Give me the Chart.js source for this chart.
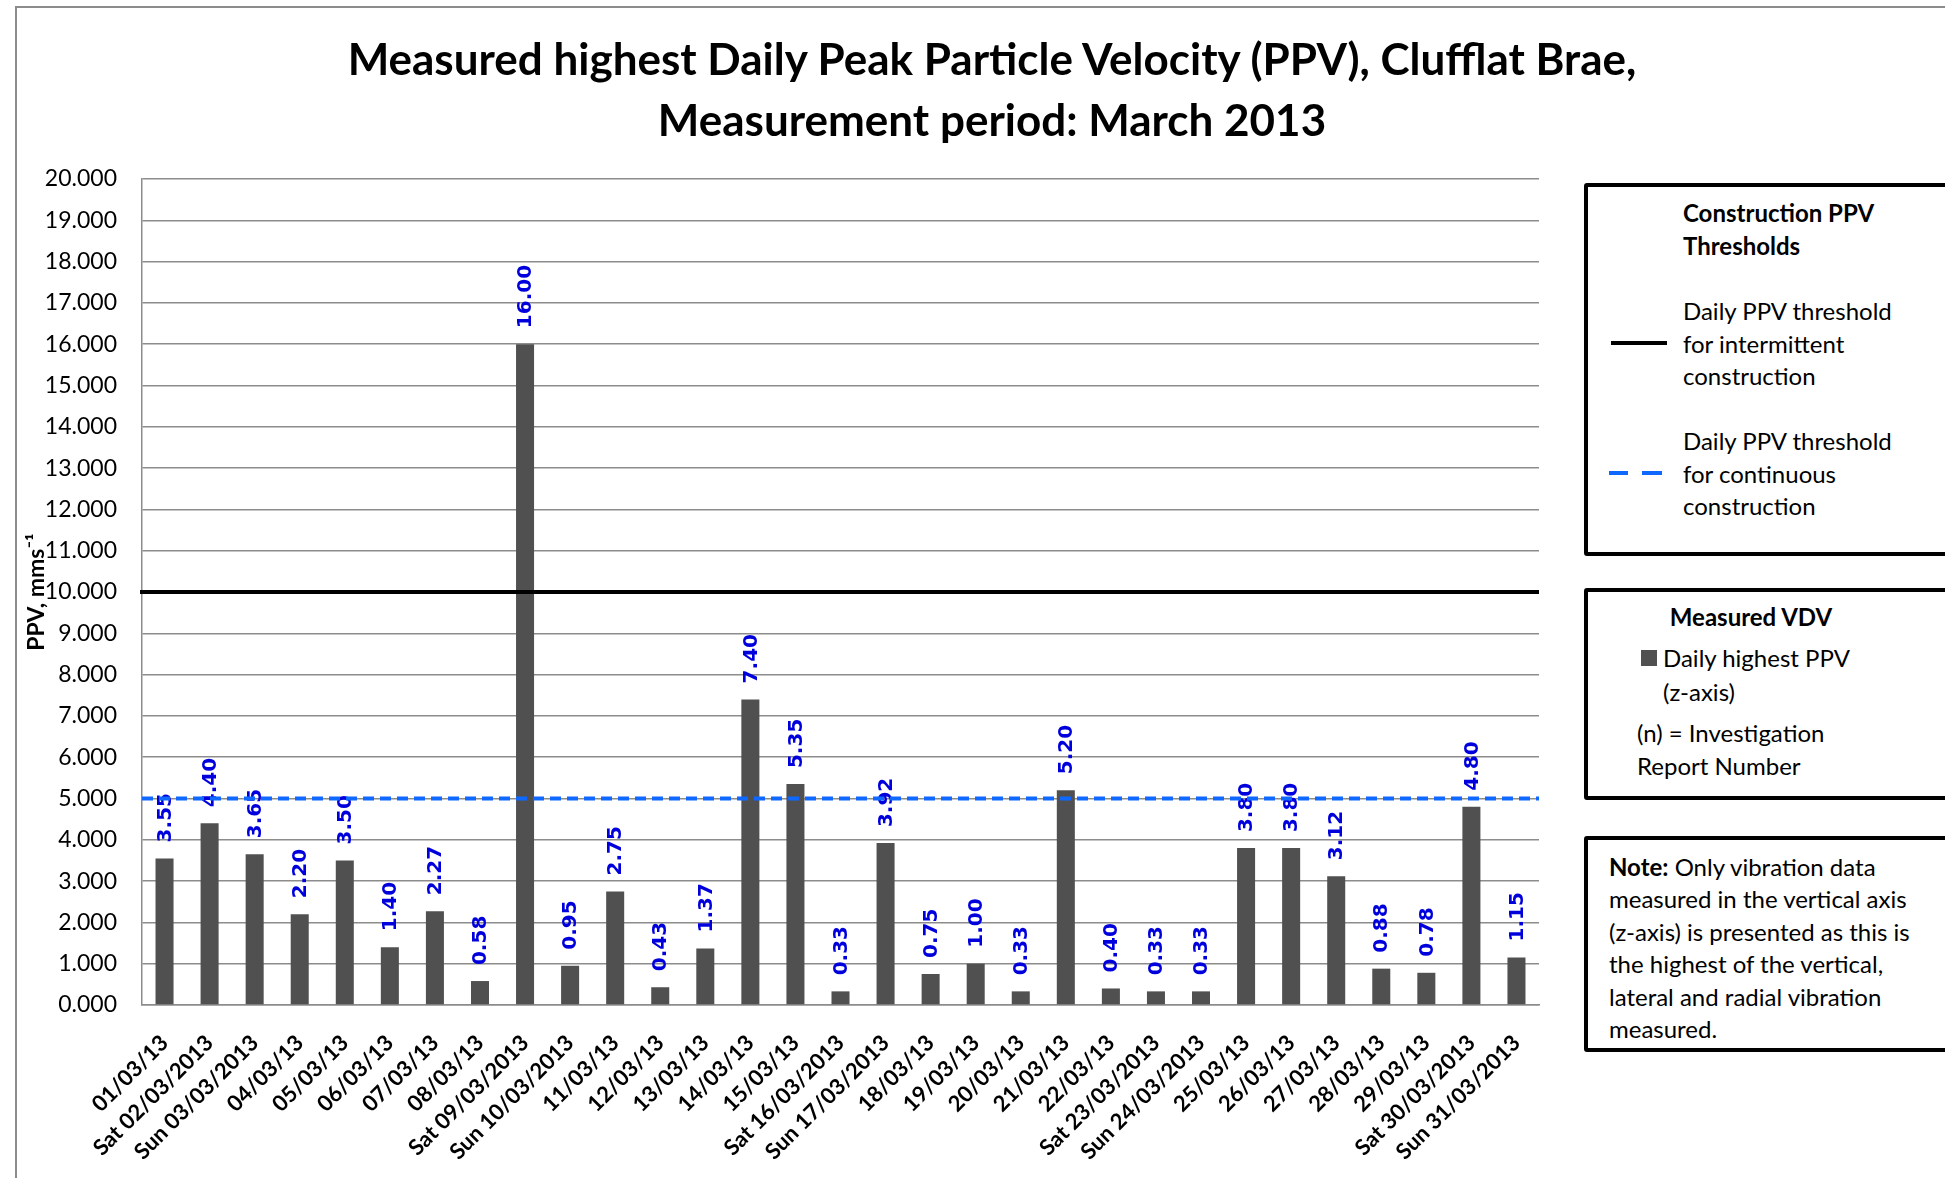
<!DOCTYPE html>
<html lang="en">
<head>
    <meta charset="UTF-8">
    <title>Measured highest Daily PPV, Clufflat Brae, March 2013</title>
    <script src="https://cdn.jsdelivr.net/npm/chart.js@4.4.0/dist/chart.umd.min.js"></script>
    <style>
        body {
            margin: 0;
            width: 1945px;
            height: 1178px;
            overflow: hidden;
            position: relative;
            background: #fff;
            font-family: Lato, 'Open Sans', sans-serif;
            color: #000;
        }
        .frame {
            position: absolute;
            left: 15px;
            top: 6px;
            width: 2100px;
            height: 1300px;
            border-left: 2px solid #8c8c8c;
            border-top: 2px solid #8c8c8c;
        }
        .chart-wrap {
            position: absolute;
            left: 0;
            top: 0;
            width: 1945px;
            height: 1178px;
        }
        .title {
            position: absolute;
            left: 0;
            width: 1984px;
            top: 28px;
            text-align: center;
            font-weight: bold;
            font-size: 44px;
            line-height: 61px;
        }
        .box {
            position: absolute;
            left: 1584px;
            width: 420px;
            border: 4px solid #000;
            border-radius: 3px;
            background: #fff;
        }
        .txt {
            position: absolute;
            font-size: 24px;
            line-height: 32.5px;
            white-space: nowrap;
        }
        .sym { position: absolute; }
    </style>
</head>
<body>
    <div class="frame"></div>
    <div class="chart-wrap"><canvas id="ppvChart"></canvas></div>

    <div class="title">Measured highest Daily Peak Particle Velocity (PPV), Clufflat Brae,<br>Measurement period: March 2013</div>

    <!-- legend box: thresholds -->
    <div class="box" style="top:183px; height:365px;"></div>
    <div class="txt" style="left:1683px; top:197px; font-weight:bold;">Construction PPV<br>Thresholds</div>
    <div class="sym" style="left:1611px; top:341px; width:56px; height:4px; background:#000;"></div>
    <div class="txt" style="left:1683px; top:295px;">Daily PPV threshold<br>for intermittent<br>construction</div>
    <div class="sym" style="left:1609px; top:471px; width:19px; height:4px; background:#0f68ff;"></div>
    <div class="sym" style="left:1642px; top:471px; width:20px; height:4px; background:#0f68ff;"></div>
    <div class="txt" style="left:1683px; top:425px;">Daily PPV threshold<br>for continuous<br>construction</div>

    <!-- legend box: measured -->
    <div class="box" style="top:588px; height:204px;"></div>
    <div class="txt" style="left:1601px; width:300px; text-align:center; top:601px; font-weight:bold;">Measured VDV</div>
    <div class="sym" style="left:1641px; top:650px; width:16px; height:16px; background:#505050;"></div>
    <div class="txt" style="left:1663px; top:641px; line-height:34px;">Daily highest PPV<br>(z-axis)</div>
    <div class="txt" style="left:1637px; top:717px;">(n) = Investigation<br>Report Number</div>

    <!-- note box -->
    <div class="box" style="top:836px; height:208px;"></div>
    <div class="txt" style="left:1609px; top:851px; line-height:32.4px;"><b>Note:</b> Only vibration data<br>measured in the vertical axis<br>(z-axis) is presented as this is<br>the highest of the vertical,<br>lateral and radial vibration<br>measured.</div>

    <script>
        // daily highest PPV (z-axis), March 2013
        const dayLabels = ['01/03/13', 'Sat 02/03/2013', 'Sun 03/03/2013', '04/03/13', '05/03/13', '06/03/13', '07/03/13', '08/03/13',
            'Sat 09/03/2013', 'Sun 10/03/2013', '11/03/13', '12/03/13', '13/03/13', '14/03/13', '15/03/13', 'Sat 16/03/2013',
            'Sun 17/03/2013', '18/03/13', '19/03/13', '20/03/13', '21/03/13', '22/03/13', 'Sat 23/03/2013', 'Sun 24/03/2013',
            '25/03/13', '26/03/13', '27/03/13', '28/03/13', '29/03/13', 'Sat 30/03/2013', 'Sun 31/03/2013'];
        const peakPPV = [3.55, 4.40, 3.65, 2.20, 3.50, 1.40, 2.27, 0.58, 16.00, 0.95, 2.75, 0.43, 1.37, 7.40, 5.35, 0.33,
            3.92, 0.75, 1.00, 0.33, 5.20, 0.40, 0.33, 0.33, 3.80, 3.80, 3.12, 0.88, 0.78, 4.80, 1.15];

        const yMin = 0;
        const yMax = 20;
        const yStep = 1;

        const intermittentLimit = 10;
        const continuousLimit = 5;

        const gridGrey = '#8c8c8c';

        // values written above each bar, rotated
        const barValueLabels = {
            id: 'barValueLabels',
            afterDatasetsDraw(chart) {
                const ctx = chart.ctx;
                const meta = chart.getDatasetMeta(0);
                ctx.save();
                ctx.font = 'bold 20px "DejaVu Sans"';
                ctx.fillStyle = '#0000dd';
                ctx.textAlign = 'left';
                ctx.textBaseline = 'middle';
                meta.data.forEach((bar, i) => {
                    ctx.save();
                    ctx.translate(bar.x, bar.y - 16);
                    ctx.rotate(-Math.PI / 2);
                    ctx.fillText(peakPPV[i].toFixed(2), 0, 1);
                    ctx.restore();
                });
                ctx.restore();
            }
        };

        // threshold lines across the plot
        const thresholdLines = {
            id: 'thresholdLines',
            afterDatasetsDraw(chart) {
                const ctx = chart.ctx;
                const area = chart.chartArea;
                const y = chart.scales.y;
                ctx.save();
                ctx.lineWidth = 4;

                ctx.strokeStyle = '#000';
                ctx.beginPath();
                ctx.moveTo(area.left - 2, y.getPixelForValue(intermittentLimit));
                ctx.lineTo(area.right, y.getPixelForValue(intermittentLimit));
                ctx.stroke();

                ctx.strokeStyle = '#0f68ff';
                ctx.setLineDash([11, 6]);
                ctx.beginPath();
                ctx.moveTo(area.left, y.getPixelForValue(continuousLimit));
                ctx.lineTo(area.right, y.getPixelForValue(continuousLimit));
                ctx.stroke();
                ctx.restore();
            }
        };

        Chart.defaults.font.family = "Lato, 'Open Sans', sans-serif";
        Chart.defaults.color = '#000';

        const ctx = document.getElementById('ppvChart').getContext('2d');
        const chart = new Chart(ctx, {
            type: 'bar',
            data: {
                labels: dayLabels,
                datasets: [{
                    label: 'Daily highest PPV (z-axis)',
                    data: peakPPV,
                    backgroundColor: '#505050',
                    barPercentage: 0.4,
                    categoryPercentage: 1.0
                }]
            },
            options: {
                responsive: true,
                maintainAspectRatio: false,
                animation: false,
                layout: {
                    padding: { left: 16, top: 179, right: 406, bottom: 0 }
                },
                plugins: {
                    legend: { display: false },
                    title: { display: false },
                    tooltip: { enabled: false }
                },
                scales: {
                    x: {
                        afterFit: function(scale) { scale.height = 173; },
                        grid: { display: false },
                        border: { display: true, color: gridGrey, width: 1.5 },
                        ticks: {
                            autoSkip: false,
                            maxRotation: 45,
                            minRotation: 45,
                            padding: 17,
                            font: { size: 22, weight: 'bold' }
                        }
                    },
                    y: {
                        min: yMin,
                        max: yMax,
                        afterFit: function(scale) { scale.width = 126; },
                        grid: { color: gridGrey, lineWidth: 1.5, drawTicks: false },
                        border: { display: true, color: gridGrey, width: 1.5 },
                        ticks: {
                            stepSize: yStep,
                            padding: 25,
                            font: { size: 23 },
                            callback: function(value) {
                                return value.toFixed(3);
                            }
                        },
                        title: {
                            display: true,
                            text: 'PPV, mms\u207B\u00B9',
                            font: { size: 23, weight: 'bold' },
                            padding: { top: 7, bottom: 0 }
                        }
                    }
                }
            },
            plugins: [barValueLabels, thresholdLines]
        });
    </script>
</body>
</html>
